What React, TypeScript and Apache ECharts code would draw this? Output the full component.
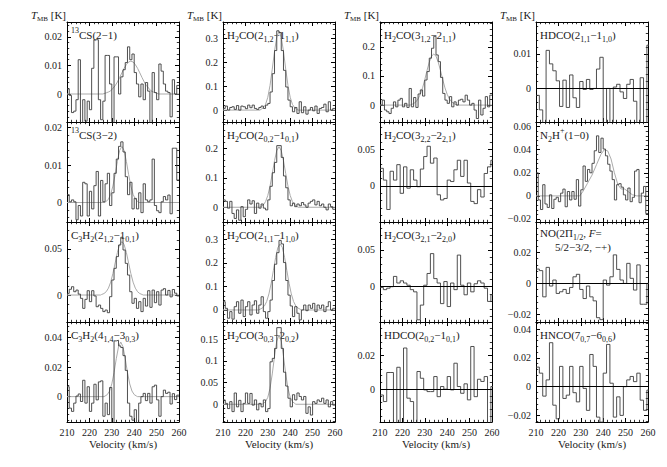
import React, { useEffect, useRef } from 'react';
import * as echarts from 'echarts';

// ---------- channel grid ----------
const V_START = 210;
const CH_FINE = 1;     // km/s
const CH_COARSE = 1.5; // km/s

// ---------- spectra (T_MB in mK), column by column ----------
const cs13_21 = [1.8,-0.5,-6.5,-6,-2,12,-12,-2,-9.5,-2.5,-5.5,9,19,19,-2,-9,-2.5,13.5,13.5,3.5,-12,13,13,0,6,8.5,11,16.5,12,14,7.5,3.5,-1,3.5,-2,4,1,-11,7.5,0.5,-2,10.5,8,3.5,1,0.5,-8,5,0,3];
const cs13_32 = [2.1,0.2,0.7,0.2,-4.6,-0.8,-3.6,5.4,5,-3.6,3,-1.7,4.5,8.3,-3.6,5.9,0.2,5,7.8,-0.8,2.6,7.8,11.6,15,16.2,13.5,6.9,2.1,5.4,-1.7,1.1,-1.7,2.6,-2.7,5,0.7,0.2,0.7,11.6,-0.8,-2.2,-2.7,0.2,1.6,0.7,2,-3,14.5,14.5,6];
const c3h2_212 = [1.8,6.2,9,3.6,5.4,1,-3.6,-14.5,-4.7,4.7,-7.2,4.7,-1,-12.7,-10.9,-14.5,-18,-16.3,-19.2,-1.8,16.3,29,41.7,54.3,62.7,48.9,34.4,21.7,3.6,-9,-3.6,-14.5,-7.2,-18,-3.6,-12,4.7,-13.4,5.4,-8.3,3.6,-10.9,5.4,6.9,0,5,-2,6,2,-1];
const c3h2_414 = [6.7,-7.8,-10,-4.4,0.4,1.8,-3.3,11.1,-4.4,6.7,-10,-4.4,8.4,-2.2,10,10.7,-13.3,-4.4,-12.2,6.2,-18,37.8,38.2,34.4,33.3,27.8,17.8,-4.4,-13.3,-16,-8.9,-18,-4.4,0,2.2,-2.7,2.2,-4.4,6.7,7.8,-2.2,-13.3,0,4.4,2.2,3,-5,2,-2,1];

const h2co_212 = [7,17,0,11,14,3,19,0,17,14,6,21,10,21,7,3,11,17,7,21,28,76,153,250,333,326,250,167,97,42,14,-7,11,-14,35,-11,14,-17,0,11,-3,17,-14,7,11,25,-7,35,0,7];
const h2co_202 = [25,20,-3,20,-21,-38,-9,-44,2,-32,-7,25,11,22,-21,14,-3,11,-3,-9,25,71,117,152,209,209,169,106,66,25,5,14,2,11,5,16,8,0,14,20,25,8,20,5,11,0,-9,11,2,-7];
const h2co_211 = [35,7,-35,-7,-39,14,35,-14,42,-28,14,35,-21,21,39,-14,21,56,-7,-35,-7,42,125,194,243,295,280,201,125,63,17,-28,14,-14,-42,0,21,-3,21,7,28,-7,21,7,21,-7,14,35,0,7];
const h2co_303 = [10,2,-10,6,-17,26,-6,9,-17,2,26,2,25,-2,10,-13,2,-6,10,-17,-10,98,106,129,177,177,129,74,42,14,-6,22,10,26,18,10,18,-21,-6,-25,6,2,10,6,14,2,10,-6,6,-2];

const h2co_312 = [0,17,-17,-23,-29,-11,11,-6,17,23,-6,6,-8,57,-6,26,-8,38,52,31,86,115,161,195,236,172,149,95,40,17,6,29,-6,11,0,17,20,11,34,17,0,6,-17,-46,17,-34,-11,29,-6,34];
const h2co_322 = [24,8,-32,20,8,29,-10,26,-3,22,8,-1,23,40,54,31,38,-12,-19,-17,8,6,22,35,13,35,4,-21,-24,-5,-15,17,26,35];
const h2co_321 = [-1,-4,-2,0,14,5,8,5,2,-4,-7,-45,-25,2,18,45,11,5,-23,7,-27,5,-4,43,2,-11,5,-7,4,8,5,-2,-20,-11];
const hdco_202 = [-3.4,-7.3,9.9,9.9,-22,13,-22,24.4,-5.3,-7.3,-22,10.5,6.5,-0.4,-1.4,-1.4,7.5,-4.4,1.6,0,7.5,-0.4,15.4,1.6,-2.4,3.2,-6.3,25.3,-4.4,5.9,4.6,7.5,-22,1.6];

const hdco_211 = [-2,-6.2,-11,11,7.1,5.1,2.2,-5.2,2.4,-5.5,3.9,-2.7,-5.5,2,-0.3,2.6,-0.3,0,5.6,9,-11,0,-11,0.4,1.2,-1,-2.9,1.2,2.6,-3.7,-11,3.1,-11,12.5];
const n2hp_10 = [20,-3.5,-11.8,9.7,-7,-10,0.9,-10.9,-2.9,-1.2,-5,2.4,5.9,-9.4,3.8,-3.5,3.8,-2.9,14.1,-8.8,5.3,25.9,12.6,22.9,20,28.2,39.1,52,37.6,50,40.6,34.7,27.4,21.5,14.1,-3.5,9.7,10.6,7.6,0.9,-3.5,6.8,-5,-1.2,21.5,22.9,-5.9,2.4,8.2,-15.3];
const no_52 = [9.3,8.3,-8.7,10.4,-1.7,2.2,-6.5,-5.4,-3.9,-6.5,-2.6,4.3,5.9,-3.9,-9.8,-1.7,-8.7,-11.3,-22.2,-23.5,2.2,-1.1,4.3,18.5,9.1,2.2,0,13,3.3,-4.3,12,-13.5,-13.5,0];
const hnco_707 = [13.6,9.4,-6.6,4.7,30.6,-12.9,-22.4,14.1,-8.2,-5.9,14.1,-4.2,-10.6,14.1,-1.2,-16.5,22.4,14.1,-21.2,-24.7,9.4,29.4,2.4,-21.2,-7.1,-20,0,4.7,7.1,3.5,9.4,-9.4,-16.5,-2.4];

// ---------- fitted profiles, [velocity, mK] ----------
const fit_cs13_21 = [[210,0],[226,0],[227.5,0.4],[228.5,0.7],[229.5,1.1],[230.5,2],[231.5,2.9],[232.5,4.2],[233.5,5.75],[234.5,7.4],[235.5,9],[236.5,10.3],[237.5,11.2],[238.5,11.5],[239.5,11.2],[240.5,10.3],[241.5,9],[242.5,7.4],[243.5,5.75],[244.5,4.2],[245.5,2.9],[246.5,2],[247.5,1.1],[248.5,0.7],[249.5,0.4],[251,0],[260,0]];
const fit_cs13_32 = [[210,0],[227,0],[227.5,0.3],[228.5,0.9],[229.5,2.2],[230.5,4.4],[231.5,7.5],[232.5,11],[233.5,13.9],[234.5,15],[235.5,13.9],[236.5,11],[237.5,7.5],[238.5,4.4],[239.5,2.2],[240.5,0.9],[241.5,0.3],[242,0],[260,0]];
const fit_c3h2_212 = [[210,0],[225,0],[225.5,0.6],[226.5,1.6],[227.5,3.6],[228.5,7.5],[229.5,14],[230.5,23.4],[231.5,34.8],[232.5,46.2],[233.5,54.8],[234.5,58],[235.5,54.8],[236.5,46.2],[237.5,34.8],[238.5,23.4],[239.5,14],[240.5,7.5],[241.5,3.6],[242.5,1.6],[243.5,0.6],[244,0],[260,0]];
const fit_c3h2_414 = [[210,0],[226.5,0],[227,0.4],[228,1.4],[229,3.8],[230,8.6],[231,16.3],[232,25.7],[233,33.8],[234,37],[235,33.8],[236,25.7],[237,16.3],[238,8.6],[239,3.8],[240,1.4],[241,0.4],[241.5,0],[260,0]];
const fit_h2co_212 = [[210,0],[226.5,0],[227,3.3],[228,9.6],[229,24],[230,54],[231,104],[232,172],[233,247],[234,307],[235,330],[236,307],[237,247],[238,172],[239,104],[240,54],[241,24],[242,9.6],[243,3.3],[243.5,0],[260,0]];
const fit_h2co_202 = [[210,0],[226.5,0],[227,3],[228,8],[229,19],[230,40],[231,72],[232,114],[233,158],[234,192],[235,205],[236,192],[237,158],[238,114],[239,72],[240,40],[241,19],[242,8],[243,3],[243.5,0],[260,0]];
const fit_h2co_211 = [[210,0],[226,0],[226.5,3],[227.5,8],[228.5,17],[229.5,36],[230.5,68],[231.5,113],[232.5,168],[233.5,223],[234.5,265],[235.5,280],[236.5,265],[237.5,223],[238.5,168],[239.5,113],[240.5,68],[241.5,36],[242.5,17],[243.5,8],[244.5,3],[245,0],[260,0]];
const fit_h2co_303 = [[210,0],[227.5,0],[228,2],[229,6],[230,16],[231,37],[232,70],[233,111],[234,146],[235,160],[236,146],[237,111],[238,70],[239,37],[240,16],[241,6],[242,2],[242.5,0],[260,0]];
const fit_h2co_312 = [[210,0],[223.5,0],[224,2],[225,5],[226,11],[227,21],[228,37],[229,59],[230,87.5],[231,119],[232,147],[233,168],[234,175],[235,168],[236,147],[237,119],[238,87.5],[239,59],[240,37],[241,21],[242,11],[243,5],[244,2],[244.5,0],[260,0]];
const fit_n2hp_10 = [[210,0],[229.5,0],[231,4],[233,11],[235,18],[237,27],[239,36],[240.5,40],[242,39],[243.5,32],[245,20],[246.5,10],[248,6],[249.5,6],[251,4],[253,1],[255,0],[260,0]];

// ---------- tick labels / titles ----------
const X_TICK_MAJOR = 10;
const X_NAME = 'Velocity (km/s)';
const Y_NAME = '{it|T}{sb|MB} [K]';
const TITLES = [
  ['{sp|13}CS(2−1)', '{sp|13}CS(3−2)', 'C{sb|3}H{sb|2}(2{sb|1,2}−1{sb|0,1})', 'C{sb|3}H{sb|2}(4{sb|1,4}−3{sb|0,3})'],
  ['H{sb|2}CO(2{sb|1,2}−1{sb|1,1})', 'H{sb|2}CO(2{sb|0,2}−1{sb|0,1})', 'H{sb|2}CO(2{sb|1,1}−1{sb|1,0})', 'H{sb|2}CO(3{sb|0,3}−2{sb|0,2})'],
  ['H{sb|2}CO(3{sb|1,2}−2{sb|1,1})', 'H{sb|2}CO(3{sb|2,2}−2{sb|2,1})', 'H{sb|2}CO(3{sb|2,1}−2{sb|2,0})', 'HDCO(2{sb|0,2}−1{sb|0,1})'],
  ['HDCO(2{sb|1,1}−1{sb|1,0})', 'N{sb|2}H{sp|+}(1−0)', 'NO(2Π{sb|1/2}, {it|F}=', 'HNCO(7{sb|0,7}−6{sb|0,6})'],
];
const NO_SECOND_LINE = '5/2−3/2, −+)';

// panel configs: [column][row]
const PANELS = [
  [
    { vals: cs13_21, ch: CH_FINE, min: -0.0098, max: 0.0252, major: 0.01, fit: fit_cs13_21, zero: false },
    { vals: cs13_32, ch: CH_FINE, min: -0.0052, max: 0.0215, major: 0.01, fit: fit_cs13_32, zero: false },
    { vals: c3h2_212, ch: CH_FINE, min: -0.0293, max: 0.0793, major: 0.05, fit: fit_c3h2_212, zero: false },
    { vals: c3h2_414, ch: CH_FINE, min: -0.0172, max: 0.0506, major: 0.02, fit: fit_c3h2_414, zero: false },
  ],
  [
    { vals: h2co_212, ch: CH_FINE, min: -0.05, max: 0.37, major: 0.1, fit: fit_h2co_212, zero: false },
    { vals: h2co_202, ch: CH_FINE, min: -0.05, max: 0.289, major: 0.1, fit: fit_h2co_202, zero: false },
    { vals: h2co_211, ch: CH_FINE, min: -0.051, max: 0.373, major: 0.1, fit: fit_h2co_211, zero: false },
    { vals: h2co_303, ch: CH_FINE, min: -0.041, max: 0.19, major: 0.05, fit: fit_h2co_303, zero: false },
  ],
  [
    { vals: h2co_312, ch: CH_FINE, min: -0.058, max: 0.285, major: 0.1, fit: fit_h2co_312, zero: false },
    { vals: h2co_322, ch: CH_COARSE, min: -0.049, max: 0.087, major: 0.05, fit: null, zero: true },
    { vals: h2co_321, ch: CH_COARSE, min: -0.048, max: 0.088, major: 0.05, fit: null, zero: true },
    { vals: hdco_202, ch: CH_COARSE, min: -0.0194, max: 0.0398, major: 0.02, fit: null, zero: true },
  ],
  [
    { vals: hdco_211, ch: CH_COARSE, min: -0.0097, max: 0.0192, major: 0.01, fit: null, zero: true },
    { vals: n2hp_10, ch: CH_FINE, min: -0.0226, max: 0.064, major: 0.02, fit: fit_n2hp_10, zero: false },
    { vals: no_52, ch: CH_COARSE, min: -0.025, max: 0.0398, major: 0.02, fit: null, zero: true },
    { vals: hnco_707, ch: CH_COARSE, min: -0.0246, max: 0.045, major: 0.02, fit: null, zero: true },
  ],
];

const COL_LEFT = [67, 223, 380, 536];
const ROW_TOP = [22, 122, 222, 322];
const PW = 112;
const PH = 100;
const FONT = 'Liberation Serif';
const INK = '#1a1a1a';

const richStyles = {
  sb: { fontSize: 8, fontFamily: FONT, fill: INK, padding: [9, 0, 0, 0] },
  sp: { fontSize: 8, fontFamily: FONT, fill: INK, padding: [0, 0, 9, 0] },
  it: { fontSize: 11, fontFamily: FONT, fontStyle: 'italic', fill: INK },
};

const fmt = (major: number) => (v: number) => {
  const k = v / major;
  if (Math.abs(k - Math.round(k)) > 1e-6) return '';
  const r = Math.round(v * 1e4) / 1e4;
  if (r === 0) return '0';
  return (r < 0 ? '−' : '') + String(Math.abs(r));
};

export default function App() {
  const ref = useRef<HTMLDivElement>(null);
  useEffect(() => {
    const chart = echarts.init(ref.current!, null, { renderer: 'svg' });
    const grids: any[] = [];
    const xAxes: any[] = [];
    const yAxes: any[] = [];
    const series: any[] = [];
    const graphics: any[] = [];
    const axisLine = { show: true, onZero: false, lineStyle: { color: '#000', width: 1 } };
    const tick = { show: true, inside: true, length: 4, lineStyle: { color: '#000', width: 1 } };
    const minor = { show: true, splitNumber: 5, length: 2.2, lineStyle: { color: '#000', width: 0.8 } };

    PANELS.forEach((col, c) => {
      col.forEach((p, r) => {
        const g = grids.length;
        grids.push({ left: COL_LEFT[c], top: ROW_TOP[r], width: PW, height: PH, containLabel: false });
        const last = r === 3;
        const xBase = {
          gridIndex: g, type: 'value', min: V_START, max: 260, interval: X_TICK_MAJOR,
          axisLine, axisTick: tick, minorTick: minor,
          splitLine: { show: false }, minorSplitLine: { show: false },
        };
        xAxes.push({
          ...xBase, position: 'bottom',
          axisLabel: { show: last, margin: 5, fontFamily: FONT, fontSize: 10, color: INK },
          name: last ? X_NAME : '', nameLocation: 'middle', nameGap: 16,
          nameTextStyle: { fontFamily: FONT, fontSize: 11, color: INK },
        });
        xAxes.push({ ...xBase, position: 'top', axisLabel: { show: false } });
        const yBase = {
          gridIndex: g, type: 'value', min: p.min, max: p.max,
          minInterval: p.major, maxInterval: p.major,
          axisLine, axisTick: tick, minorTick: minor,
          splitLine: { show: false }, minorSplitLine: { show: false },
        };
        yAxes.push({
          ...yBase, position: 'left',
          axisLabel: { show: true, margin: 5, fontFamily: FONT, fontSize: 10, color: INK, formatter: fmt(p.major) },
        });
        yAxes.push({ ...yBase, position: 'right', axisLabel: { show: false } });

        const data = p.vals.map((t, i) => [V_START + i * p.ch, t / 1000]);
        data.push([V_START + p.vals.length * p.ch, p.vals[p.vals.length - 1] / 1000]);

        if (p.fit) {
          series.push({
            type: 'line', xAxisIndex: 2 * g, yAxisIndex: 2 * g,
            data: p.fit.map(([v, t]) => [v, t / 1000]),
            symbol: 'none', silent: true, clip: true, z: 2,
            lineStyle: { color: '#ababab', width: 1 },
          });
        }
        series.push({
          type: 'line', xAxisIndex: 2 * g, yAxisIndex: 2 * g, data,
          step: 'end', symbol: 'none', silent: true, clip: true, z: 3,
          lineStyle: { color: '#3c3c3c', width: 0.9 },
          markLine: p.zero ? {
            silent: true, symbol: ['none', 'none'], label: { show: false },
            lineStyle: { color: '#000', width: 1, type: 'solid' },
            data: [{ yAxis: 0 }],
          } : undefined,
        });

        graphics.push({
          type: 'text', x: COL_LEFT[c] + 4, y: ROW_TOP[r] + (c === 3 && r === 2 ? 11 : 13),
          silent: true,
          style: {
            text: TITLES[c][r], rich: richStyles, fill: INK,
            font: `11px "${FONT}"`, align: 'left', verticalAlign: 'middle',
          },
        });
        if (c === 3 && r === 2) {
          graphics.push({
            type: 'text', x: COL_LEFT[c] + 19, y: ROW_TOP[r] + 25, silent: true,
            style: { text: NO_SECOND_LINE, fill: INK, font: `11px "${FONT}"`, align: 'left', verticalAlign: 'middle' },
          });
        }
      });
      graphics.push({
        type: 'text', x: COL_LEFT[c] - 1, y: 15, silent: true,
        style: {
          text: Y_NAME, rich: { ...richStyles, sb: { fontSize: 7, fontFamily: FONT, fill: INK, padding: [7, 0, 0, 0] } },
          fill: INK, font: `11px "${FONT}"`, align: 'right', verticalAlign: 'middle',
        },
      });
    });

    chart.setOption({
      animation: false,
      textStyle: { fontFamily: FONT },
      grid: grids,
      xAxis: xAxes,
      yAxis: yAxes,
      series,
      graphic: graphics,
    });
    return () => chart.dispose();
  }, []);
  return <div ref={ref} style={{ position: 'fixed', left: 0, top: 0, width: 667, height: 467, background: '#fff' }} />;
}
